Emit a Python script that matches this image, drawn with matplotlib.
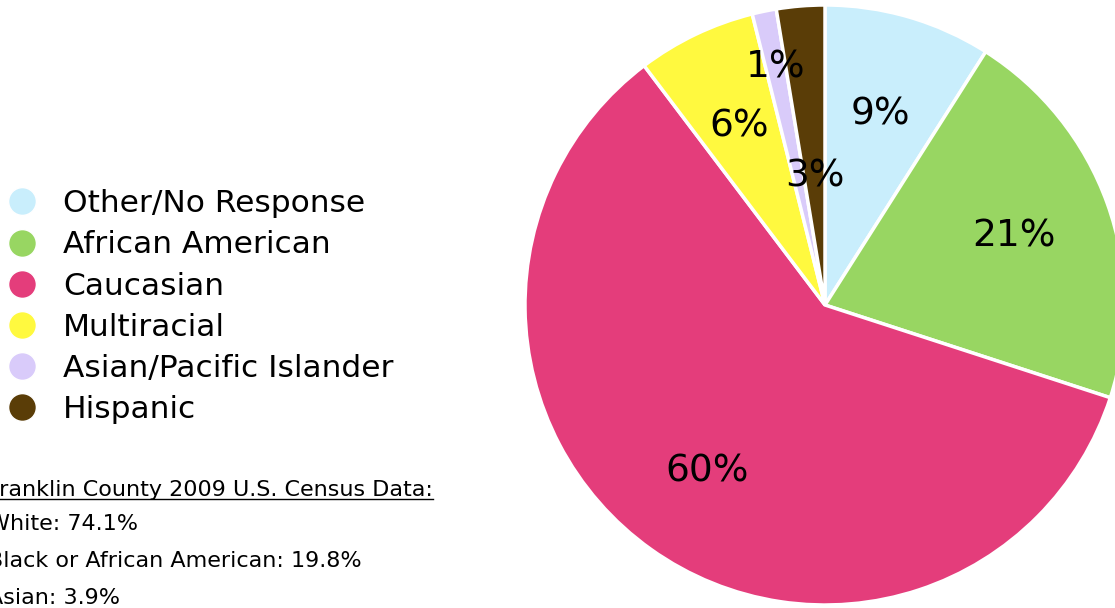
import numpy as np
import matplotlib
matplotlib.use("Agg")
import matplotlib.pyplot as plt
from matplotlib.lines import Line2D

plt.rcParams["font.family"] = ["DejaVu Sans"]

# survey breakdown (percent), clockwise from 12 o'clock
categories = ["Other/No Response", "African American", "Caucasian",
              "Multiracial", "Asian/Pacific Islander", "Hispanic"]
shares = [9.0, 21.0, 59.7, 6.4, 1.3, 2.6]
colors = ["#C9EEFC", "#98D662", "#E43D7B", "#FFF93F", "#D9CBFA", "#5A3D07"]
label_dist = [0.66, 0.67, 0.68, 0.66, 0.81, 0.43]

census_title = "Franklin County 2009 U.S. Census Data:"
census_lines = ["White: 74.1%", "Black or African American: 19.8%", "Asian: 3.9%"]

W, H = 1115, 608
fig = plt.figure(figsize=(W / 100, H / 100), dpi=100)

# pie axes: center (825, 305) px, radius 300 px
cx, cy, r = 825, 305, 300
ax = fig.add_axes([(cx - r) / W, (H - cy - r) / H, 2 * r / W, 2 * r / H])
wedges, _ = ax.pie(shares, colors=colors, startangle=90, counterclock=False,
                   radius=1.0,
                   wedgeprops=dict(edgecolor="white", linewidth=2.5))
ax.set_xlim(-1, 1)
ax.set_ylim(-1, 1)
ax.axis("off")

for w, s, d in zip(wedges, shares, label_dist):
    ang = np.deg2rad((w.theta1 + w.theta2) / 2)
    ax.text(d * np.cos(ang), d * np.sin(ang), f"{round(s):.0f}%",
            ha="center", va="center", fontsize=27, color="black")

# legend with round markers
handles = [Line2D([], [], marker="o", linestyle="", markersize=20,
                  markerfacecolor=c, markeredgecolor="white")
           for c in colors]
fig.legend(handles, categories, loc="upper left",
           bbox_to_anchor=(0.0, 1 - 183 / H), frameon=False,
           fontsize=22.5, handletextpad=0.82, labelspacing=0.39,
           handlelength=1.0, borderaxespad=0, borderpad=0.2)

# census notes
fs = 16
tx = -12 / W
t = fig.text(tx, 1 - 490 / H, census_title, fontsize=fs, va="center", ha="left")
for i, line in enumerate(census_lines):
    fig.text(tx, 1 - (524 + 37 * i) / H, line, fontsize=fs, va="center", ha="left")

# underline the title
fig.canvas.draw()
bb = t.get_window_extent().transformed(fig.transFigure.inverted())
fig.add_artist(Line2D([bb.x0, bb.x1], [bb.y0 + 0.002, bb.y0 + 0.002],
                      transform=fig.transFigure, color="black", linewidth=1))

fig.savefig("out.png", dpi=100)
